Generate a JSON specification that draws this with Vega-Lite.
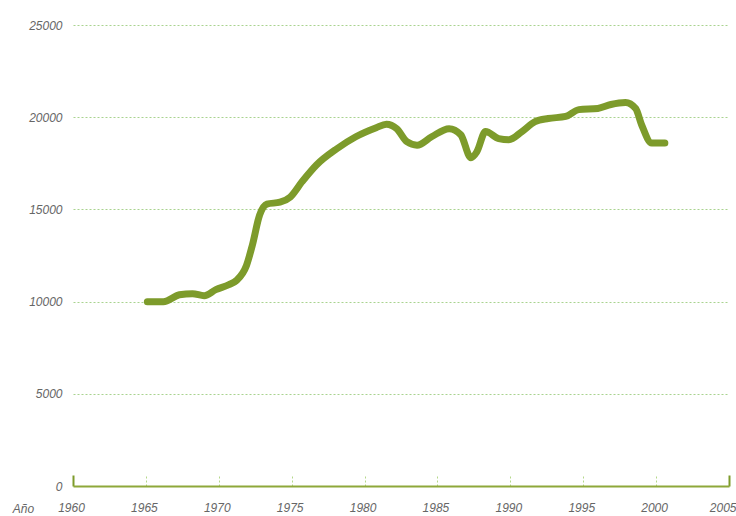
{
  "$schema": "https://vega.github.io/schema/vega-lite/v6.json",
  "autosize": "none",
  "width": 656,
  "height": 461,
  "padding": {"left": 73, "top": 25, "right": 7, "bottom": 30},
  "background": "white",
  "config": {"view": {"stroke": null}},
  "data": {"values": [
    {"year": 1965.1, "value": 9990},
    {"year": 1966.2, "value": 9990},
    {"year": 1967.3, "value": 10370},
    {"year": 1968.2, "value": 10430},
    {"year": 1969.0, "value": 10320},
    {"year": 1969.8, "value": 10650},
    {"year": 1970.7, "value": 10920},
    {"year": 1971.2, "value": 11140},
    {"year": 1971.9, "value": 11960},
    {"year": 1972.3, "value": 13050},
    {"year": 1972.8, "value": 14690},
    {"year": 1973.3, "value": 15290},
    {"year": 1974.2, "value": 15390},
    {"year": 1974.9, "value": 15670},
    {"year": 1975.7, "value": 16490},
    {"year": 1976.7, "value": 17410},
    {"year": 1978.1, "value": 18290},
    {"year": 1979.4, "value": 18940},
    {"year": 1980.8, "value": 19430},
    {"year": 1981.5, "value": 19620},
    {"year": 1982.2, "value": 19380},
    {"year": 1982.9, "value": 18670},
    {"year": 1983.6, "value": 18480},
    {"year": 1984.6, "value": 18940},
    {"year": 1985.8, "value": 19380},
    {"year": 1986.6, "value": 19050},
    {"year": 1987.3, "value": 17800},
    {"year": 1987.7, "value": 18120},
    {"year": 1988.3, "value": 19220},
    {"year": 1989.2, "value": 18840},
    {"year": 1989.9, "value": 18780},
    {"year": 1990.8, "value": 19220},
    {"year": 1991.7, "value": 19760},
    {"year": 1992.6, "value": 19930},
    {"year": 1993.8, "value": 20040},
    {"year": 1994.7, "value": 20410},
    {"year": 1996.0, "value": 20470},
    {"year": 1996.9, "value": 20690},
    {"year": 1997.9, "value": 20800},
    {"year": 1998.6, "value": 20470},
    {"year": 1999.0, "value": 19600},
    {"year": 1999.7, "value": 18600},
    {"year": 2000.6, "value": 18600}
  ]},
  "mark": {"type": "line", "color": "#7d9b2b", "strokeWidth": 7, "interpolate": "monotone", "strokeCap": "round", "strokeJoin": "round"},
  "encoding": {
    "x": {
      "field": "year", "type": "quantitative",
      "scale": {"domain": [1960, 2005], "nice": false, "zero": false},
      "axis": {
        "values": [1960, 1965, 1970, 1975, 1980, 1985, 1990, 1995, 2000, 2005],
        "format": "d",
        "grid": false,
        "domainColor": "#8ea83a",
        "domainWidth": 2,
        "tickSize": -11,
        "tickColor": {"condition": {"test": "datum.value == 1960 || datum.value == 2005", "value": "#7d9b2b"}, "value": "#b5d88a"},
        "tickWidth": {"condition": {"test": "datum.value == 1960 || datum.value == 2005", "value": 2}, "value": 1},
        "tickDash": {"condition": {"test": "datum.value == 1960 || datum.value == 2005", "value": []}, "value": [2, 2]},
        "labelFlush": false,
        "labelAlign": {"condition": {"test": "datum.value == 2005", "value": "right"}, "value": "center"},
        "labelOffset": {"condition": {"test": "datum.value == 2005", "value": 7}, "value": -2},
        "labelPadding": 27,
        "labelFont": "Liberation Sans",
        "labelFontStyle": "italic",
        "labelFontSize": 12,
        "labelColor": "#666666",
        "title": "Año",
        "titleFont": "Liberation Sans",
        "titleFontStyle": "italic",
        "titleFontWeight": "normal",
        "titleFontSize": 12,
        "titleColor": "#666666",
        "titleAnchor": "start",
        "titleAlign": "center",
        "titleBaseline": "middle",
        "titleX": -50,
        "titleY": 22
      }
    },
    "y": {
      "field": "value", "type": "quantitative",
      "scale": {"domain": [0, 25000], "nice": false},
      "axis": {
        "values": [0, 5000, 10000, 15000, 20000, 25000],
        "format": "d",
        "domain": false,
        "ticks": false,
        "grid": true,
        "gridColor": {"condition": {"test": "datum.value == 0", "value": "transparent"}, "value": "#a9d38f"},
        "gridDash": [2, 2],
        "gridWidth": 1,
        "labelPadding": 11,
        "labelFont": "Liberation Sans",
        "labelFontStyle": "italic",
        "labelFontSize": 12,
        "labelColor": "#666666",
        "title": null
      }
    }
  }
}
